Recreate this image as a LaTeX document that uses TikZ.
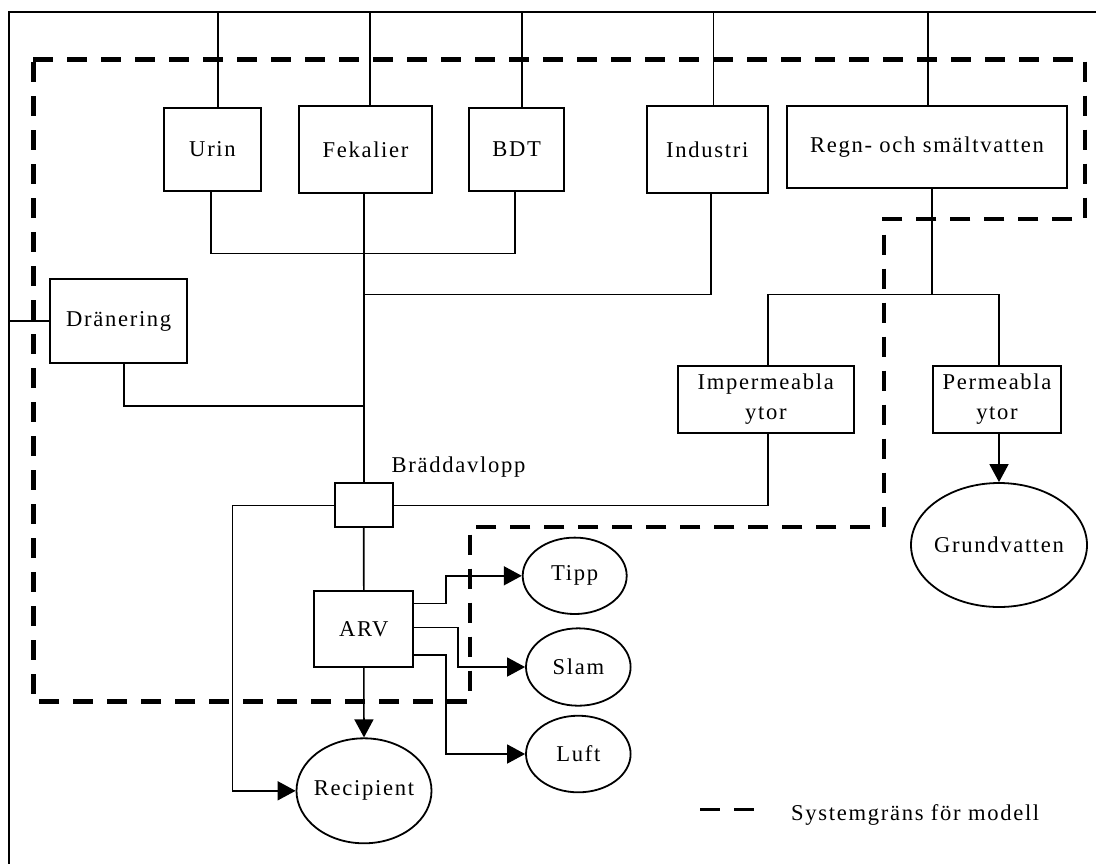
\documentclass[tikz,border=0pt]{standalone}
\usepackage{fontspec}
\setmainfont{Liberation Serif}[LetterSpace=7.5]
\usetikzlibrary{shapes.geometric,arrows.meta,calc}
\begin{document}
\begin{tikzpicture}[x=0.5pt,y=-0.5pt,
  every node/.style={font=\fontsize{11.3pt}{15pt}\selectfont},
  conn/.style={line width=0.8pt},
  arr/.style={conn,-{Triangle[length=9pt,width=9.5pt]}},
  boxn/.style={draw,line width=0.9pt,rectangle,inner sep=0pt,align=center},
  ell/.style={draw,line width=0.9pt,ellipse,inner sep=0pt},
  sysb/.style={line width=2.3pt,dash pattern=on 10pt off 7pt,line join=miter},
  legdash/.style={line width=1.3pt,dash pattern=on 10pt off 7pt}]
\useasboundingbox (0,0) rectangle (1096,864);
\fill[white] (0,0) rectangle (1096,864);
% frame
\coordinate (ftop) at (9,12);
\coordinate (fright) at (1096,12);
\coordinate (fbot) at (9,864);
\draw[conn] (fright) -- (ftop) -- (fbot);
% nodes
\node[boxn,minimum width=48.5pt,minimum height=41.6pt] (urin) at (212.5,149.3) {Urin};
\node[boxn,minimum width=66.5pt,minimum height=43.6pt] (fek) at (365.5,149.7) {Fekalier};
\node[boxn,minimum width=47.6pt,minimum height=41.5pt] (bdt) at (516.7,149.5) {BDT};
\node[boxn,minimum width=60.3pt,minimum height=43.8pt] (ind) at (707.3,149.5) {Industri};
\node[boxn,minimum width=139.7pt,minimum height=41.3pt] (regn) at (927,147) {Regn- och smältvatten};
\node[boxn,minimum width=68.6pt,minimum height=41.7pt] (dran) at (118.7,321) {Dränering};
\node[boxn,minimum width=88.1pt,minimum height=33.3pt] (imp) at (765.8,399.3) {Impermeabla\\ytor};
\node[boxn,minimum width=64.3pt,minimum height=33.8pt] (perm) at (997,399.5) {Permeabla\\ytor};
\node[boxn,minimum width=29pt,minimum height=22pt] (bradd) at (363.7,505.3) {};
\node (braddlbl) at (458.5,467) {Bräddavlopp};
\node[boxn,minimum width=49.5pt,minimum height=38.3pt] (arv) at (363.8,629) {ARV};
\node[ell,minimum width=67.5pt,minimum height=52.5pt,label={center:Recipient}] (recip) at (364,790.8) {};
\node[ell,minimum width=52pt,minimum height=38.2pt,label={center:Tipp}] (tipp) at (574.7,575.8) {};
\node[ell,minimum width=52.3pt,minimum height=38.7pt,label={center:Slam}] (slam) at (578.3,667) {};
\node[ell,minimum width=52.3pt,minimum height=38.3pt,label={center:Luft}] (luft) at (578.3,754) {};
\node[ell,minimum width=88pt,minimum height=62pt,label={center:Grundvatten}] (grund) at (999,545) {};
% helper coordinates
\coordinate (hA) at (0,253.3);
\coordinate (hB) at (0,294.3);
\coordinate (hC) at (0,406);
\coordinate (vL) at (232.3,0);
\coordinate (vT) at (446,0);
\coordinate (vS) at (457.7,0);
% top inputs
\draw[conn] ([xshift=2.75pt]urin.north) -- ([xshift=2.75pt]urin.north |- ftop);
\draw[conn] ([xshift=2.25pt]fek.north) -- ([xshift=2.25pt]fek.north |- ftop);
\draw[conn] ([xshift=2.5pt]bdt.north) -- ([xshift=2.5pt]bdt.north |- ftop);
\draw[conn] ([xshift=3pt]ind.north) -- ([xshift=3pt]ind.north |- ftop);
\draw[conn] ([xshift=0.6pt]regn.north) -- ([xshift=0.6pt]regn.north |- ftop);
% collectors
\draw[conn] ([xshift=-0.9pt]urin.south) -- ([xshift=-0.9pt]urin.south |- hA) -- ([xshift=-0.9pt]bdt.south |- hA) -- ([xshift=-0.9pt]bdt.south);
\draw[conn] (bradd.north |- fek.south) -- (bradd.north);
\draw[conn] ([xshift=1.7pt]ind.south) -- ([xshift=1.7pt]ind.south |- hB) -- (bradd.north |- hB);
\draw[conn] (dran.west -| ftop) -- (dran.west);
\draw[conn] ([xshift=2.65pt]dran.south) -- ([xshift=2.65pt]dran.south |- hC) -- (bradd.north |- hC);
\draw[conn] ([xshift=2.5pt]regn.south) -- ([xshift=2.5pt]regn.south |- hB);
\draw[conn] ([xshift=1pt]imp.north) -- ([xshift=1pt]imp.north |- hB) -- ([xshift=1pt]perm.north |- hB) -- ([xshift=1pt]perm.north);
\draw[conn] ([xshift=1.2pt]imp.south) -- ([xshift=1.2pt]imp.south |- bradd.east) -- (bradd.east);
\draw[arr] (perm.south -| grund.north) -- (grund.north);
% overflow and treatment
\draw[arr] (bradd.west) -- (bradd.west -| vL) -- (vL |- recip.west) -- (recip.west);
\draw[conn] (bradd.south) -- (arv.north);
\draw[arr] (arv.south) -- (recip.north);
\draw[arr] ([yshift=12.85pt]arv.east) -- ([yshift=12.85pt]arv.east -| vT) -- (vT |- tipp.west) -- (tipp.west);
\draw[arr] ([yshift=0.85pt]arv.east) -- ([yshift=0.85pt]arv.east -| vS) -- (vS |- slam.west) -- (slam.west);
\draw[arr] ([yshift=-13pt]arv.east) -- ([yshift=-13pt]arv.east -| vT) -- (vT |- luft.west) -- (luft.west);
% system boundary
\draw[sysb] (33.3,59.3) -- (1085,59.3) -- (1085,219) -- (884,219) -- (884,527) -- (470,527) -- (470,701.7) -- (33.3,701.7) -- cycle;
% legend
\coordinate (lg1) at (700,809.3);
\coordinate (lg2) at (754.3,809.3);
\draw[legdash] (lg1) -- (lg2);
\node[anchor=west,inner sep=0pt] (legtxt) at (790.7,815) {Systemgräns för modell};
\end{tikzpicture}
\end{document}
